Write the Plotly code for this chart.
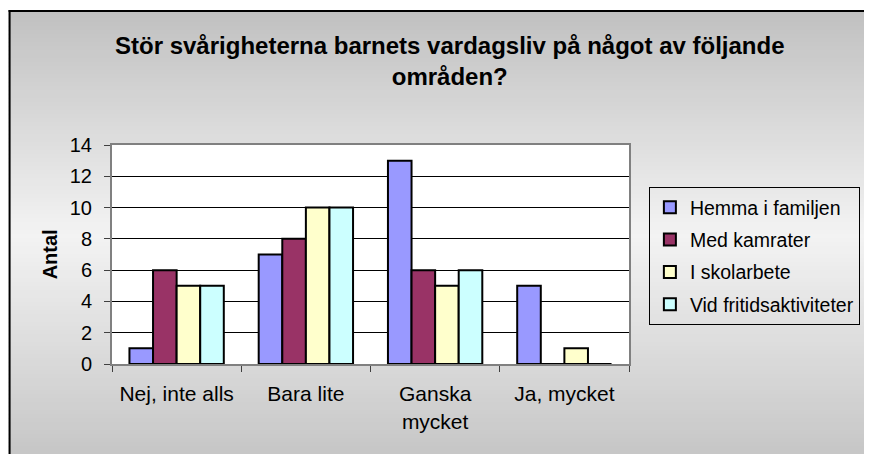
import plotly.graph_objects as go

# ---- data ----
categories = ["Nej, inte alls", "Bara lite", "Ganska<br>mycket", "Ja, mycket"]
series_names = ["Hemma i familjen", "Med kamrater", "I skolarbete", "Vid fritidsaktiviteter"]
hemma = [1, 7, 13, 5]
kamrater = [6, 8, 6, 0]
skolarbete = [5, 10, 5, 1]
fritid = [5, 10, 6, 0]
y_ticks = [0, 2, 4, 6, 8, 10, 12, 14]
title_text = "Stör svårigheterna barnets vardagsliv på något av följande<br>områden?"
y_title = "Antal"

# ---- styling ----
colors = ["#9999FF", "#993366", "#FFFFCC", "#CCFFFF"]
FONT = "Liberation Sans, Arial, sans-serif"
OFF = 8  # page body margin
W, H = 872 - OFF, 462 - 2 * OFF
# plot area in page pixels
PL, PR, PT, PB = 112, 632, 145, 364
L, R, T, B = PL - OFF, PR - OFF, PT - OFF, PB - OFF


def px(x):  # page px -> paper x
    return (x - PL) / (PR - PL)


def py(y):  # page px -> paper y
    return (PB - y) / (PB - PT)


fig = go.Figure()
for name, vals, col in zip(series_names, [hemma, kamrater, skolarbete, fritid], colors):
    fig.add_trace(go.Bar(
        x=categories, y=vals, name=name, legendgroup=name,
        marker=dict(color=col, line=dict(color="black", width=2)),
    ))

# gradient background bands (kept inside the figure)
shapes = []
top, mid, bot = 10, 235, 470
page_right, page_bottom = OFF + W, OFF + H
step = 4
y = top
while y < page_bottom:
    y2 = min(y + step, page_bottom)
    yc = (y + y2) / 2
    if yc <= mid:
        v = 192 + (243 - 192) * (yc - top) / (mid - top)
    else:
        v = 243 + (195 - 243) * (yc - mid) / (bot - mid)
    v = int(round(v))
    c = f"rgb({v},{v},{v})"
    shapes.append(dict(type="rect", xref="paper", yref="paper", layer="below",
                       x0=px(OFF), x1=px(page_right), y0=py(min(y2 + 0.5, page_bottom)), y1=py(y),
                       fillcolor=c, line=dict(width=0)))
    y = y2
# plot area white
shapes.append(dict(type="rect", xref="paper", yref="paper", layer="below",
                   x0=0, x1=1, y0=0, y1=1, fillcolor="white", line=dict(width=0)))
# outer border (left and top edges)
shapes.append(dict(type="line", xref="paper", yref="paper", layer="above",
                   x0=px(OFF + 1), x1=px(OFF + 1), y0=py(page_bottom), y1=py(10),
                   line=dict(color="black", width=2)))
shapes.append(dict(type="line", xref="paper", yref="paper", layer="above",
                   x0=px(OFF), x1=px(page_right), y0=py(11), y1=py(11),
                   line=dict(color="black", width=2)))

fig.update_layout(
    width=W, height=H,
    margin=dict(l=L, r=W - R, t=T, b=H - B, pad=0),
    paper_bgcolor="white", plot_bgcolor="white",
    font=dict(family=FONT, size=20, color="black"),
    barmode="group", bargap=0.27, bargroupgap=0,
    showlegend=True,
    legend=dict(x=px(652), y=py(187), xanchor="left", yanchor="top",
                bgcolor="rgba(0,0,0,0)", bordercolor="black", borderwidth=1,
                font=dict(family=FONT, size=19.5, color="black"),
                tracegroupgap=4, traceorder="grouped", itemwidth=30),
    shapes=shapes,
    annotations=[
        dict(text="<b>" + title_text + "</b>", xref="paper", yref="paper",
             x=px(452), y=py(61), xanchor="center", yanchor="middle", showarrow=False,
             font=dict(family=FONT, size=24, color="black")),
        dict(text="<b>" + y_title + "</b>", xref="paper", yref="paper",
             x=px(50), y=py(254), xanchor="center", yanchor="middle", showarrow=False,
             textangle=-90, font=dict(family=FONT, size=20, color="black")),
    ],
)

fig.update_xaxes(
    type="category", showline=True, linecolor="#808080", linewidth=2, mirror=True,
    ticks="outside", tickson="boundaries", ticklen=6, tickcolor="#404040", tickwidth=1,
    showgrid=False, ticklabelstandoff=10, tickfont=dict(family=FONT, size=21, color="black"),
)
fig.update_yaxes(
    range=[0, 14], tickvals=y_ticks, showline=True, linecolor="#808080", linewidth=2,
    mirror=True, ticks="outside", ticklen=6, tickcolor="#404040", tickwidth=1,
    showgrid=True, gridcolor="black", gridwidth=1, zeroline=False,
    ticklabelstandoff=8, tickfont=dict(family=FONT, size=20, color="black"),
)

fig.write_html("out.html")
